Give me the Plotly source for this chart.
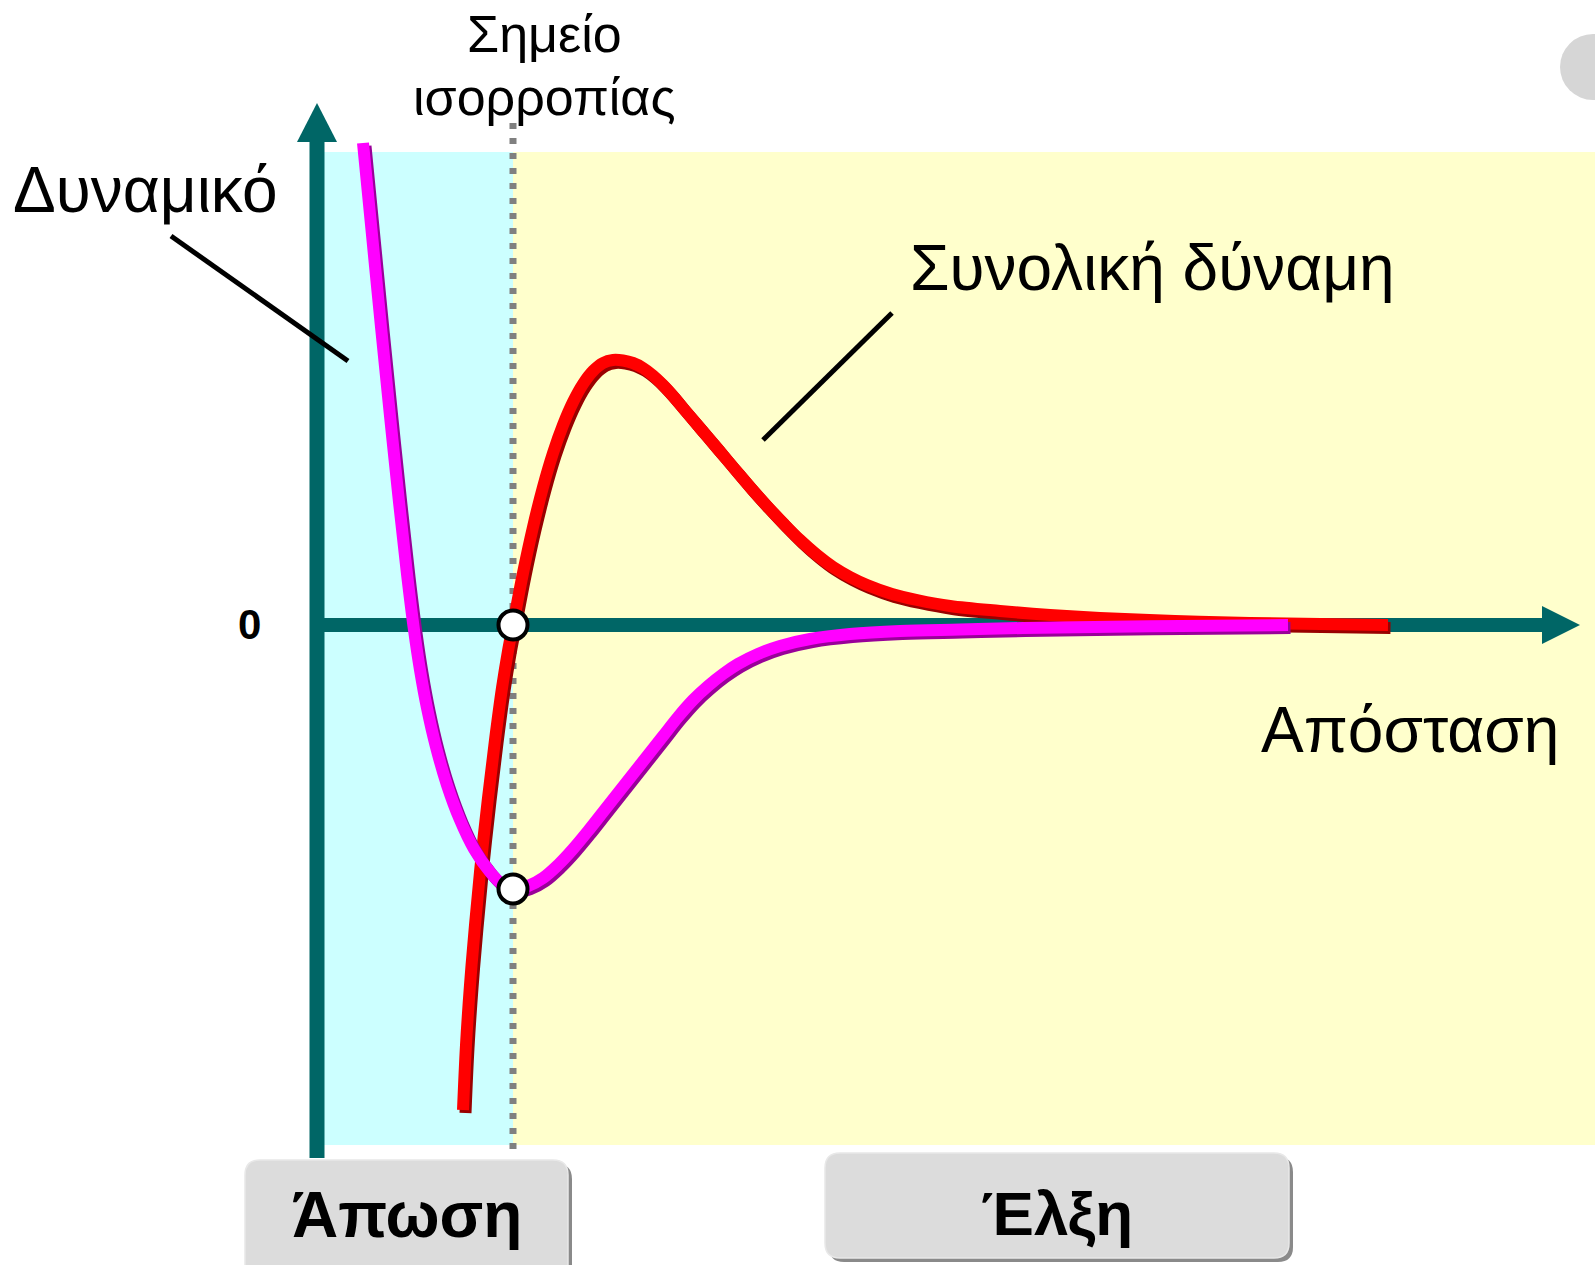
import plotly.graph_objects as go

# ---------------- data (distance units, value units; origin = axes crossing) -------------
pot_x = [0.46, 0.55, 0.64, 0.73, 0.82, 0.90, 0.97, 1.03, 1.10, 1.19, 1.30, 1.43, 1.57,
         1.73, 1.86, 1.96, 2.11, 2.26, 2.41, 2.56, 2.71, 2.86, 3.01, 3.16, 3.31, 3.46,
         3.61, 3.76, 3.91, 4.06, 4.21, 4.41, 4.63, 4.93, 5.33, 5.83, 6.43, 7.06, 8.33, 9.71]
pot_y = [4.82, 3.90, 2.98, 2.09, 1.23, 0.51, -0.05, -0.45, -0.83, -1.22, -1.60, -1.95, -2.24,
         -2.47, -2.60, -2.64, -2.61, -2.53, -2.40, -2.24, -2.06, -1.87, -1.68, -1.49, -1.30, -1.11,
         -0.92, -0.75, -0.61, -0.49, -0.39, -0.29, -0.21, -0.14, -0.09, -0.06, -0.045, -0.03, -0.013, 0.00]

force_x = [1.46, 1.49, 1.53, 1.58, 1.64, 1.71, 1.78, 1.85, 1.91, 1.96, 2.06, 2.16, 2.26,
           2.36, 2.46, 2.56, 2.66, 2.76, 2.86, 2.96, 3.06, 3.16, 3.26, 3.36, 3.46, 3.56,
           3.66, 3.83, 4.00, 4.16, 4.33, 4.50, 4.67, 4.83, 5.00, 5.16, 5.33, 5.50, 5.75,
           6.00, 6.33, 6.83, 7.33, 7.83, 8.58, 9.33, 10.71]
force_y = [-4.85, -4.20, -3.60, -3.00, -2.37, -1.73, -1.15, -0.63, -0.26, 0.00, 0.52, 0.98, 1.38,
           1.72, 2.00, 2.23, 2.41, 2.54, 2.62, 2.65, 2.645, 2.62, 2.57, 2.495, 2.40, 2.29,
           2.17, 1.97, 1.77, 1.58, 1.38, 1.19, 1.01, 0.85, 0.70, 0.58, 0.48, 0.40, 0.31,
           0.25, 0.19, 0.14, 0.10, 0.07, 0.04, 0.02, 0.00]

eq_x = [1.96, 1.96]
eq_y = [0.00, -2.64]

label_potential = "Δυναμικό"
label_force = "Συνολική δύναμη"
label_eq = ["Σημείο", "ισορροπίας"]
label_dist = "Απόσταση"
label_zero = "0"
label_rep = "Άπωση"
label_att = "Έλξη"

TEAL = "#006666"
FONT = "Liberation Sans, Arial, sans-serif"

X_RANGE = [-3.17, 12.78]
Y_RANGE = [-6.40, 6.25]

fig = go.Figure()

# shadows of the curves
sx, sy = 0.025, -0.03
LW = 12


def curve(xs, ys, color, name=None, skip=False):
    return go.Scatter(x=xs, y=ys, mode="lines",
                      line=dict(color=color, width=LW, shape="spline", smoothing=1, simplify=False),
                      hoverinfo="skip" if skip else None, name=name, showlegend=False)


fig.add_trace(curve([v + sx for v in force_x], [v + sy for v in force_y], "#990000", skip=True))
fig.add_trace(curve(force_x, force_y, "#FF0000", name="force"))
fig.add_trace(curve([v + sx for v in pot_x], [v + sy for v in pot_y], "#990099", skip=True))
fig.add_trace(curve(pot_x, pot_y, "#FF00FF", name="potential"))
fig.add_trace(go.Scatter(x=eq_x, y=eq_y, mode="markers",
                         marker=dict(size=29, color="white", line=dict(color="black", width=4)),
                         showlegend=False))


def rrect(x0, y0, x1, y1, r):
    return (f"M {x0 + r},{y1} L {x1 - r},{y1} Q {x1},{y1} {x1},{y1 - r} "
            f"L {x1},{y0 + r} Q {x1},{y0} {x1 - r},{y0} L {x0 + r},{y0} "
            f"Q {x0},{y0} {x0},{y0 + r} L {x0},{y1 - r} Q {x0},{y1} {x0 + r},{y1} Z")


shapes = []
# background regions
shapes.append(dict(type="rect", xref="x", yref="y", x0=0, x1=eq_x[0], y0=-5.20, y1=4.73,
                   fillcolor="#CCFFFF", line=dict(width=0), layer="below"))
shapes.append(dict(type="rect", xref="x", yref="y", x0=eq_x[0], x1=X_RANGE[1] + 0.1, y0=-5.20, y1=4.73,
                   fillcolor="#FFFFCC", line=dict(width=0), layer="below"))
# equilibrium dotted line
shapes.append(dict(type="line", xref="x", yref="y", x0=eq_x[0], x1=eq_x[0], y0=-5.24, y1=5.05,
                   line=dict(color="#808080", width=7, dash="6px,9px"), layer="below"))
# axes
shapes.append(dict(type="line", xref="x", yref="y", x0=0, x1=0, y0=-5.33, y1=4.85,
                   line=dict(color=TEAL, width=15), layer="below"))
shapes.append(dict(type="path", xref="x", yref="y", path="M -0.20,4.83 L 0.20,4.83 L 0,5.22 Z",
                   fillcolor=TEAL, line=dict(width=0), layer="below"))
shapes.append(dict(type="line", xref="x", yref="y", x0=0, x1=12.27, y0=0, y1=0,
                   line=dict(color=TEAL, width=14), layer="below"))
shapes.append(dict(type="path", xref="x", yref="y", path="M 12.25,0.19 L 12.25,-0.19 L 12.63,0 Z",
                   fillcolor=TEAL, line=dict(width=0), layer="below"))
# leader lines
shapes.append(dict(type="line", xref="x", yref="y", x0=-1.46, y0=3.89, x1=0.31, y1=2.64,
                   line=dict(color="black", width=5)))
shapes.append(dict(type="line", xref="x", yref="y", x0=5.75, y0=3.12, x1=4.46, y1=1.85,
                   line=dict(color="black", width=5)))
# buttons (shadow + face)
for (bx0, by0, bx1, by1) in [(-0.72, -6.70, 2.51, -5.35), (5.08, -6.33, 9.72, -5.28)]:
    shapes.append(dict(type="path", xref="x", yref="y", path=rrect(bx0 + 0.04, by0 - 0.04, bx1 + 0.04, by1 - 0.04, 0.15),
                       fillcolor="#8a8a8a", line=dict(width=0)))
    shapes.append(dict(type="path", xref="x", yref="y", path=rrect(bx0, by0, bx1, by1, 0.15),
                       fillcolor="#DCDCDC", line=dict(color="#e8e8e8", width=1.5)))
# grey dot at top-right corner
shapes.append(dict(type="circle", xref="x", yref="y", x0=12.43, x1=13.09, y0=5.25, y1=5.91,
                   fillcolor="#D6D6D6", line=dict(width=0)))

ann = []
def add_text(t, x, y, size, bold=False):
    ann.append(dict(text=f"<b>{t}</b>" if bold else t, x=x, y=y, xref="x", yref="y",
                    showarrow=False, xanchor="center", yanchor="middle",
                    font=dict(family=FONT, size=size, color="black")))

add_text(label_eq[0], 2.27, 5.91, 52)
add_text(label_eq[1], 2.27, 5.28, 52)
add_text(label_potential, -1.72, 4.35, 64)
add_text(label_force, 8.35, 3.57, 64)
add_text(label_dist, 10.93, -1.05, 64)
add_text(label_zero, -0.68, 0.01, 42, bold=True)
add_text(label_rep, 0.90, -5.90, 64, bold=True)
add_text(label_att, 7.40, -5.88, 62, bold=True)

fig.update_layout(
    width=1595, height=1265, autosize=False,
    margin=dict(l=0, r=0, t=0, b=0, pad=0),
    paper_bgcolor="white", plot_bgcolor="white",
    xaxis=dict(range=X_RANGE, visible=False, fixedrange=True),
    yaxis=dict(range=Y_RANGE, visible=False, fixedrange=True),
    shapes=shapes, annotations=ann, showlegend=False, hovermode=False,
)

fig.write_html("out.html", config={"displayModeBar": False},
               post_script="document.body.style.margin='0';document.body.style.overflow='hidden';")
